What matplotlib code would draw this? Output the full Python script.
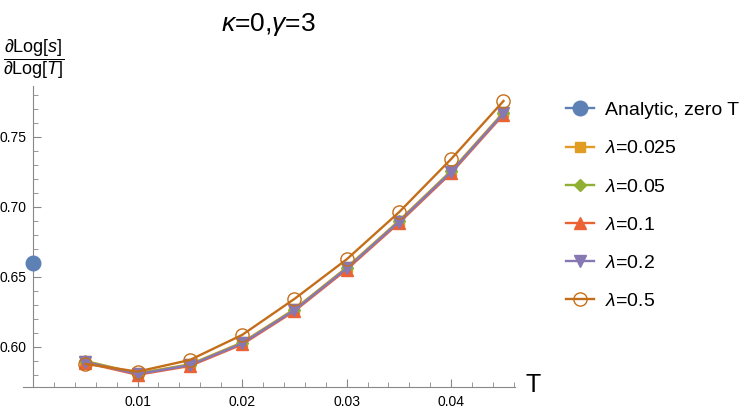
import numpy as np
import matplotlib
matplotlib.use("Agg")
import matplotlib.pyplot as plt
from matplotlib.ticker import MultipleLocator, FixedLocator

plt.rcParams['font.family'] = ['Liberation Sans', 'DejaVu Sans']
plt.rcParams['mathtext.fontset'] = 'custom'
plt.rcParams['mathtext.rm'] = 'Liberation Sans'
plt.rcParams['mathtext.it'] = 'Liberation Sans:italic'

# Daten
T = [0.005, 0.01, 0.015, 0.02, 0.025, 0.03, 0.035, 0.04, 0.045]
analytic_T = [0.0]
analytic_val = [0.6598]

lam_0025 = [0.5900, 0.5812, 0.5876, 0.6032, 0.6270, 0.6568, 0.6902, 0.7259, 0.7676]
lam_005 = [0.5897, 0.5809, 0.5873, 0.6028, 0.6266, 0.6564, 0.6897, 0.7254, 0.7671]
lam_01 = [0.5887, 0.5801, 0.5864, 0.6018, 0.6256, 0.6553, 0.6886, 0.7243, 0.7660]
lam_02 = [0.5894, 0.5806, 0.5870, 0.6025, 0.6263, 0.6561, 0.6894, 0.7251, 0.7668]
lam_05 = [0.5879, 0.5824, 0.5907, 0.6086, 0.6343, 0.6626, 0.6962, 0.7343, 0.7757]

labels = ['Analytic, zero T', r'$\mathit{\lambda}$=0.025', r'$\mathit{\lambda}$=0.05',
          r'$\mathit{\lambda}$=0.1', r'$\mathit{\lambda}$=0.2', r'$\mathit{\lambda}$=0.5']
colors = ['#5E81B5', '#E19C24', '#8FB032', '#EB6235', '#8778B3', '#C56E1A']

fig = plt.figure(figsize=(7.5, 4.11), dpi=100)
ax = fig.add_axes([23 / 750, 1 - 387 / 411, (515 - 23) / 750, (387 - 86) / 411])

ax.plot(analytic_T, analytic_val, '-o', color=colors[0], ms=10.5, lw=1.7,
        label=labels[0], clip_on=False, zorder=3)
ax.plot(T, lam_0025, '-s', color=colors[1], ms=6.5, lw=1.7, label=labels[1])
ax.plot(T, lam_005, '-D', color=colors[2], ms=6, lw=1.7, label=labels[2])
ax.plot(T, lam_01, '-^', color=colors[3], ms=8, lw=1.7, label=labels[3])
ax.plot(T, lam_02, '-v', color=colors[4], ms=8, lw=1.7, label=labels[4])
ax.plot(T, lam_05, '-o', color=colors[5], ms=9.5, lw=1.7, mfc='none',
        mew=1, label=labels[5])

ax.set_xlim(-0.00096, 0.0461)
ax.set_ylim(0.5714, 0.7864)

for s in ['top', 'right']:
    ax.spines[s].set_visible(False)
ax.spines['left'].set_position(('data', 0))
for s in ['left', 'bottom']:
    ax.spines[s].set_color('#888888')

ax.xaxis.set_major_locator(FixedLocator([0.01, 0.02, 0.03, 0.04]))
ax.xaxis.set_minor_locator(MultipleLocator(0.002))
ax.yaxis.set_major_locator(FixedLocator([0.60, 0.65, 0.70, 0.75]))
ax.yaxis.set_minor_locator(MultipleLocator(0.01))
ax.set_xticklabels(['0.01', '0.02', '0.03', '0.04'])
ax.set_yticklabels(['0.60', '0.65', '0.70', '0.75'])
ax.tick_params(which='both', direction='in', color='#888888', labelsize=10)
ax.tick_params(which='major', length=6)
ax.tick_params(which='minor', length=3.5)
ax.tick_params(axis='x', pad=6)
ax.tick_params(axis='y', pad=5)

fig.text(268 / 750, 1 - 24 / 411, r'$\mathit{\kappa}$=0,$\mathit{\gamma}$=3',
         fontsize=19, ha='center', va='center')
fig.text(533 / 750, 1 - 385 / 411, 'T', fontsize=18, ha='center', va='center')
fig.text(3 / 750, 1 - 59 / 411, r'$\dfrac{\partial\mathrm{Log}[s]}{\partial\mathrm{Log}[T]}$',
         fontsize=13, ha='left', va='center')

fig.legend(loc='upper left', bbox_to_anchor=(548 / 750, 1 - 84 / 411),
           frameon=False, fontsize=14, labelspacing=1.06, handlelength=1.45,
           handletextpad=0.6)

plt.savefig('out.png', dpi=100)
